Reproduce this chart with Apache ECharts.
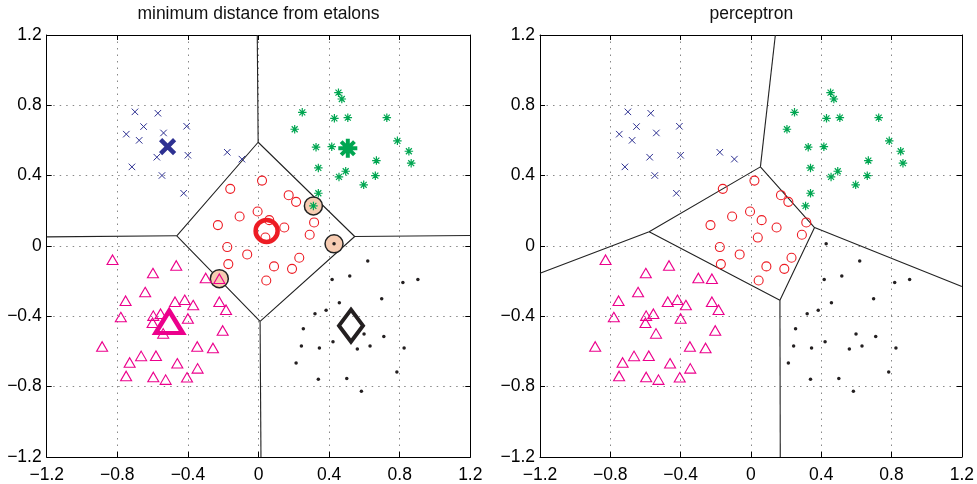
<!DOCTYPE html>
<html><head><meta charset="utf-8">
<script src="https://cdn.jsdelivr.net/npm/echarts@6/dist/echarts.min.js"></script>
<style>html,body{margin:0;padding:0;background:#fff}#c{width:977px;height:484px}</style>
</head><body><div id="c"></div>
<script>
const panelTitles = ['minimum distance from etalons', 'perceptron'];
const tickLabels = ['\u22121.2', '\u22120.8', '\u22120.4', '0', '0.4', '0.8', '1.2'];

const blueCross = [[-0.700,0.763],[-0.570,0.755],[-0.651,0.679],[-0.749,0.636],[-0.676,0.601],[-0.538,0.643],[-0.407,0.681],[-0.576,0.505],[-0.400,0.516],[-0.717,0.450],[-0.547,0.401],[-0.424,0.300],[-0.177,0.533],[-0.094,0.494]];
const greenStar = [[0.453,0.872],[0.472,0.836],[0.248,0.760],[0.430,0.726],[0.506,0.730],[0.727,0.730],[0.205,0.664],[0.326,0.562],[0.415,0.565],[0.787,0.598],[0.852,0.539],[0.865,0.471],[0.668,0.486],[0.339,0.444],[0.494,0.425],[0.456,0.393],[0.662,0.400],[0.596,0.348],[0.339,0.300],[0.311,0.228]];
const redCircle = [[0.020,0.372],[-0.160,0.325],[0.171,0.289],[0.213,0.251],[-0.005,0.196],[0.061,0.147],[-0.107,0.168],[-0.230,0.119],[0.146,0.105],[0.315,0.134],[0.290,0.064],[0.039,0.048],[-0.177,-0.006],[-0.064,-0.048],[0.231,-0.067],[-0.171,-0.103],[0.088,-0.116],[0.190,-0.130],[0.044,-0.196]];
const magentaTri = [[-0.827,-0.078],[-0.466,-0.111],[-0.598,-0.154],[-0.299,-0.182],[-0.222,-0.186],[-0.642,-0.262],[-0.753,-0.311],[-0.473,-0.317],[-0.418,-0.306],[-0.370,-0.336],[-0.222,-0.317],[-0.184,-0.362],[-0.780,-0.404],[-0.596,-0.396],[-0.555,-0.385],[-0.600,-0.436],[-0.400,-0.412],[-0.540,-0.497],[-0.203,-0.480],[-0.886,-0.571],[-0.665,-0.625],[-0.581,-0.624],[-0.730,-0.662],[-0.347,-0.571],[-0.258,-0.580],[-0.460,-0.667],[-0.345,-0.696],[-0.750,-0.739],[-0.596,-0.745],[-0.526,-0.760],[-0.405,-0.747]];
const blackDot = [[0.428,0.0125],[0.619,-0.086],[0.417,-0.190],[0.517,-0.171],[0.818,-0.207],[0.903,-0.190],[0.698,-0.300],[0.458,-0.323],[0.320,-0.385],[0.383,-0.366],[0.254,-0.470],[0.598,-0.500],[0.710,-0.514],[0.422,-0.544],[0.243,-0.569],[0.345,-0.580],[0.560,-0.586],[0.632,-0.569],[0.825,-0.580],[0.213,-0.665],[0.339,-0.758],[0.500,-0.753],[0.583,-0.826],[0.784,-0.716]];

const etalonBlue = [[-0.515,0.565]];
const etalonGreen = [[0.506,0.556]];
const etalonRed = [[0.046,0.086]];
const etalonMagenta = [[-0.506,-0.432]];
const etalonBlack = [[0.524,-0.453]];
const misclassified = [[0.311,0.228],[0.428,0.0125],[-0.222,-0.186]];

const leftBoundaries = [
  [[-0.007,1.2],[-0.002,0.590]],
  [[-1.2,0.052],[-0.463,0.058]],
  [[0.545,0.054],[1.2,0.060]],
  [[0.009,-0.429],[0.014,-1.2]],
  [[-0.002,0.590],[-0.463,0.058],[0.009,-0.429],[0.545,0.054],[-0.002,0.590]]
];
const rightBoundaries = [
  [[0.139,1.2],[0.054,0.450]],
  [[0.054,0.450],[-0.579,0.081],[-1.2,-0.155]],
  [[-0.579,0.081],[0.165,-0.308],[0.362,0.105],[0.054,0.450]],
  [[0.362,0.105],[1.2,-0.230]],
  [[0.165,-0.308],[0.167,-1.2]]
];

const FONT = "'Liberation Sans', Arial, Helvetica, sans-serif";
const COL = {blue:'#2E3192', green:'#00A651', red:'#ED1C24', magenta:'#EC008C', black:'#231F20', peach:'#F7CCB2'};
const X_PATH = 'path://M0,0L10,10M10,0L0,10';
const STAR_PATH = 'path://M0,5L10,5M5,0L5,10M1.5,1.5L8.5,8.5M8.5,1.5L1.5,8.5';

const grids = [
  {left: 46.7, top: 35, width: 423.6, height: 422.5},
  {left: 540, top: 35, width: 422.6, height: 422.5}
];
const fmt = v => tickLabels[Math.round((v + 1.2) / 0.4)];

function xAxes(g) {
  const base = {gridIndex: g, type: 'value', min: -1.2, max: 1.2, interval: 0.4,
    axisLine: {show: true, onZero: false, lineStyle: {color: '#000', width: 1}},
    axisTick: {show: true, inside: true, length: 5, lineStyle: {color: '#000'}}};
  return [
    Object.assign({}, base, {position: 'bottom',
      axisLabel: {show: true, margin: 9, fontSize: 17.5, color: '#000', fontFamily: FONT, formatter: fmt, showMinLabel: true, showMaxLabel: true},
      splitLine: {show: true, lineStyle: {type: [1.5, 5], color: '#888', width: 1}}}),
    Object.assign({}, base, {position: 'top', axisLabel: {show: false}, splitLine: {show: false}})
  ];
}
function yAxes(g) {
  const base = {gridIndex: g, type: 'value', min: -1.2, max: 1.2, interval: 0.4,
    axisLine: {show: true, onZero: false, lineStyle: {color: '#000', width: 1}},
    axisTick: {show: true, inside: true, length: 5, lineStyle: {color: '#000'}}};
  return [
    Object.assign({}, base, {position: 'left',
      axisLabel: {show: true, margin: 5, fontSize: 17.5, color: '#000', fontFamily: FONT, formatter: fmt, showMinLabel: true, showMaxLabel: true},
      splitLine: {show: true, lineStyle: {type: [1.5, 5], color: '#888', width: 1}}}),
    Object.assign({}, base, {position: 'right', axisLabel: {show: false}, splitLine: {show: false}})
  ];
}

function scatter(ax, data, symbol, size, color, fill, bw, z) {
  return {type: 'scatter', xAxisIndex: ax, yAxisIndex: ax, data: data, symbol: symbol, symbolSize: size, z: z,
    itemStyle: {color: fill, borderColor: color, borderWidth: bw, opacity: 1}, silent: true};
}
function lines(ax, polys) {
  return polys.map(p => ({type: 'line', xAxisIndex: ax, yAxisIndex: ax, data: p, symbol: 'none', z: 2, silent: true,
    lineStyle: {color: '#222', width: 1.1}}));
}
function points(ax) {
  return [
    scatter(ax, blueCross, X_PATH, 6.5, COL.blue, 'rgba(0,0,0,0)', 1, 4),
    scatter(ax, greenStar, STAR_PATH, 8.5, COL.green, 'rgba(0,0,0,0)', 1.2, 4),
    scatter(ax, redCircle, 'circle', 9, COL.red, 'rgba(0,0,0,0)', 1.1, 4),
    scatter(ax, magentaTri, 'triangle', [11, 9.5], COL.magenta, 'rgba(0,0,0,0)', 1.1, 4),
    scatter(ax, blackDot, 'circle', 3.5, COL.black, COL.black, 0, 4)
  ];
}

const series = [].concat(
  lines(0, leftBoundaries),
  [scatter(0, misclassified, 'circle', 18, '#222', COL.peach, 1.5, 3)],
  points(0),
  [
    scatter(0, etalonBlue, X_PATH, 14, COL.blue, 'rgba(0,0,0,0)', 4.5, 5),
    scatter(0, etalonGreen, STAR_PATH, 19, COL.green, 'rgba(0,0,0,0)', 4, 5),
    scatter(0, etalonRed, 'circle', 22, COL.red, 'rgba(0,0,0,0)', 4.5, 5),
    scatter(0, etalonMagenta, 'triangle', [27, 22], COL.magenta, 'rgba(0,0,0,0)', 4.5, 5),
    scatter(0, etalonBlack, 'diamond', [24, 32], COL.black, 'rgba(0,0,0,0)', 4, 5)
  ],
  lines(2, rightBoundaries),
  points(2)
);

const chart = echarts.init(document.getElementById('c'), null, {renderer: 'canvas'});
chart.setOption({
  animation: false,
  backgroundColor: '#fff',
  grid: grids,
  xAxis: [].concat(xAxes(0), xAxes(1)),
  yAxis: [].concat(yAxes(0), yAxes(1)),
  graphic: panelTitles.map((t, i) => ({type: 'text', x: grids[i].left + grids[i].width / 2, y: 14.5,
    style: {text: t, fill: '#111', font: '17.5px ' + FONT, textAlign: 'center', textVerticalAlign: 'middle'}})),
  series: series
});
</script>
</body></html>
